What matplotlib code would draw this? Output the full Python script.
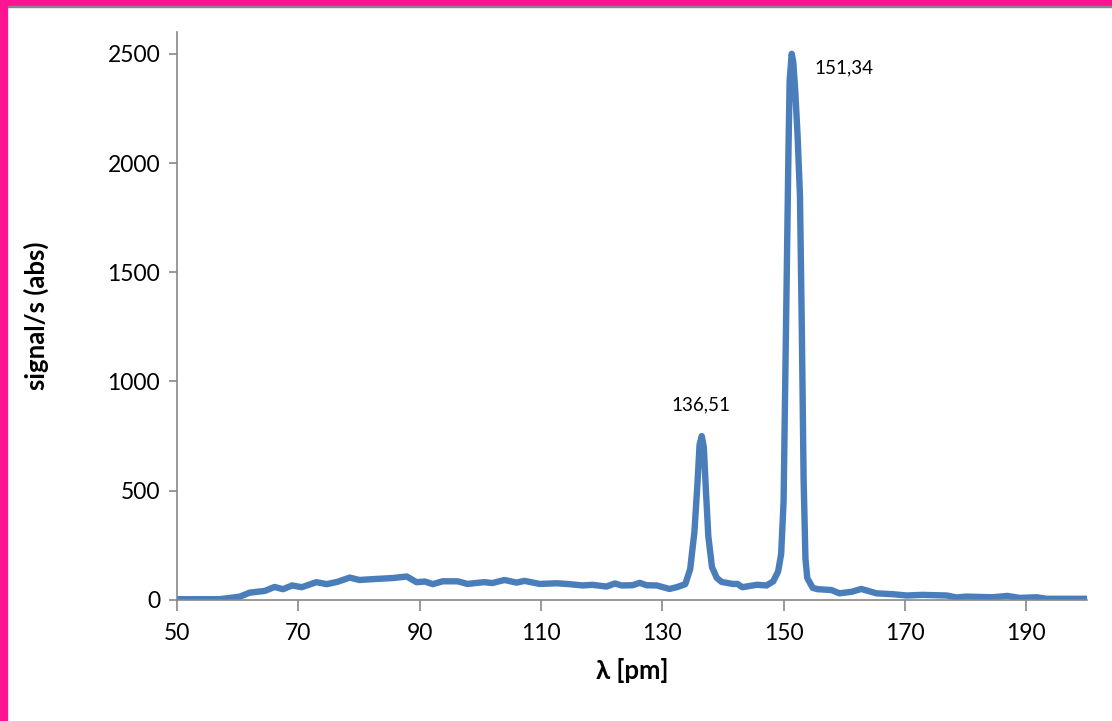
import matplotlib
matplotlib.use("Agg")
import matplotlib.pyplot as plt
from matplotlib.patches import Rectangle

plt.rcParams['font.family'] = ['Lato', 'DejaVu Sans']

# spectrum
wavelength = [50, 54, 57, 58.5, 60.4, 62, 64.5, 66.1, 67.5, 69, 70.6, 73, 74.7, 76.4,
              78.5, 80.1, 82.3, 85.6, 87.9, 89.5, 90.9, 92.2, 93.8, 96.3, 97.9, 99.9,
              100.7, 102, 104, 106, 107.3, 109.8, 112.6, 114.7, 116.9, 118.5, 120.8,
              122.2, 123.3, 125.1, 126.3, 127.4, 129.1, 131.2, 132.5, 133.8, 134.6,
              135.3, 135.8, 136.15, 136.51, 136.85, 137.2, 137.6, 138.2, 139.0, 139.8,
              141.6, 142.4, 143.2, 145.6, 147.2, 148.3, 149.1, 149.6, 150.0, 150.4,
              150.8, 151.0, 151.34, 151.6, 151.9, 152.3, 152.7, 153.0, 153.3, 153.6,
              153.9, 154.8, 155.6, 157.9, 159.2, 161.2, 162.8, 165.3, 168, 170.3,
              172.9, 176.9, 178.5, 180.1, 184.4, 186.9, 188.9, 191.7, 193.3, 200]
signal = [3, 3, 3, 8, 15, 33, 41, 59, 49, 66, 58, 81, 72, 82,
          102, 91, 95, 100, 107, 81, 84, 72, 85, 85, 73, 79,
          81, 77, 91, 79, 87, 73, 76, 72, 66, 69, 61,
          75, 66, 67, 78, 67, 66, 50, 59, 72, 140,
          310, 530, 710, 750, 700, 500, 290, 150, 100, 82,
          73, 73, 58, 69, 66, 85, 130, 210, 450, 1250,
          2050, 2380, 2500, 2460, 2340, 2130, 1850, 1250, 550, 190,
          100, 55, 49, 45, 30, 37, 50, 30, 26, 20,
          23, 20, 11, 15, 12, 18, 9, 12, 5, 5]

peak_labels = ["136,51", "151,34"]
peak_pos = [(136.3, 895), (155.1, 2436)]

fig = plt.figure(figsize=(11.12, 7.21), dpi=100)
ax = fig.add_axes([0.159, 0.168, 0.8185, 0.7876])

ax.plot(wavelength, signal, color='#4A7EBB', lw=4.6, solid_joinstyle='round',
        solid_capstyle='round')

for lab, (xx, yy) in zip(peak_labels, peak_pos):
    ha = 'center' if lab == "136,51" else 'left'
    ax.text(xx, yy, lab, ha=ha, va='center', fontsize=13.5)

ax.set_xlim(50, 200)
ax.set_ylim(0, 2600)
ax.set_xticks(range(50, 200, 20))
ax.set_yticks(range(0, 2501, 500))
ax.tick_params(axis='both', colors='#888888', labelcolor='black', labelsize=16.5)
ax.tick_params(axis='x', length=8, width=1.2, pad=9)
ax.tick_params(axis='y', length=6, width=1.2, pad=6)
for s in ['top', 'right']:
    ax.spines[s].set_visible(False)
for s in ['left', 'bottom']:
    ax.spines[s].set_color('#888888')
    ax.spines[s].set_linewidth(1.2)

ax.set_xlabel('λ [pm]', fontsize=18.5, fontweight='bold', labelpad=10)
ax.set_ylabel('signal/s (abs)', fontsize=18.5, fontweight='bold', labelpad=42)

# pink frame on top and left edges
fig.patches.append(Rectangle((0, 1 - 6 / 721), 1, 6 / 721, transform=fig.transFigure,
                             color='#FF1493', zorder=5))
fig.patches.append(Rectangle((0, 1 - 7 / 721), 1, 1 / 721, transform=fig.transFigure,
                             color='#888888', zorder=5))
fig.patches.append(Rectangle((0, 0), 7 / 1112, 1, transform=fig.transFigure,
                             color='#FF1493', zorder=6))

fig.savefig('out.png', dpi=100)
